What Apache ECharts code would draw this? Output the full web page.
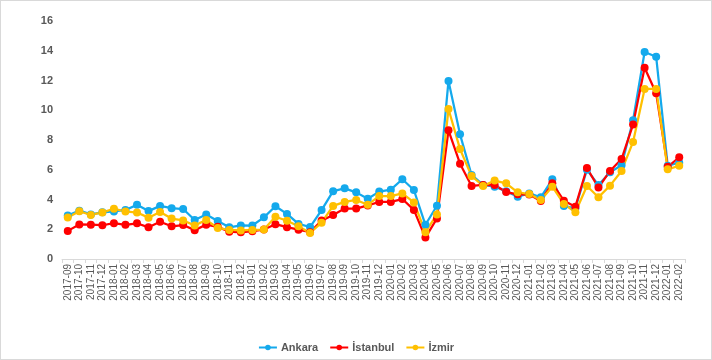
<!DOCTYPE html>
<html><head><meta charset="utf-8">
<script src="https://cdn.jsdelivr.net/npm/echarts@6/dist/echarts.min.js"></script>
<style>
html,body{margin:0;padding:0;background:#fff;}
#c{width:710px;height:358px;border:1px solid #d9d9d9;}
</style></head>
<body><div id="c"></div>
<script>
var months = ['2017-09','2017-10','2017-11','2017-12','2018-01','2018-02','2018-03','2018-04','2018-05','2018-06','2018-07','2018-08','2018-09','2018-10','2018-11','2018-12','2019-01','2019-02','2019-03','2019-04','2019-05','2019-06','2019-07','2019-08','2019-09','2019-10','2019-11','2019-12','2020-01','2020-02','2020-03','2020-04','2020-05','2020-06','2020-07','2020-08','2020-09','2020-10','2020-11','2020-12','2021-01','2021-02','2021-03','2021-04','2021-05','2021-06','2021-07','2021-08','2021-09','2021-10','2021-11','2021-12','2022-01','2022-02'];
var ankara = [2.93,3.25,3.0,3.14,3.2,3.3,3.64,3.22,3.57,3.42,3.36,2.62,2.99,2.56,2.13,2.26,2.25,2.8,3.55,3.03,2.36,2.15,3.29,4.56,4.75,4.48,4.05,4.53,4.66,5.36,4.64,2.3,3.58,11.97,8.38,5.65,4.98,4.86,4.55,4.19,4.41,4.15,5.36,3.57,3.41,6.0,4.97,5.83,6.3,9.33,13.92,13.6,6.27,6.47];
var istanbul = [1.89,2.32,2.31,2.27,2.41,2.3,2.4,2.13,2.5,2.2,2.28,1.94,2.31,2.16,1.84,1.79,1.87,1.98,2.34,2.14,1.97,1.8,2.58,2.96,3.39,3.39,3.6,3.84,3.84,4.03,3.3,1.44,2.73,8.65,6.41,4.91,4.98,4.97,4.5,4.35,4.33,3.9,5.09,3.92,3.52,6.12,4.8,5.92,6.72,9.05,12.86,11.14,6.2,6.84];
var izmir = [2.79,3.21,2.96,3.13,3.38,3.2,3.12,2.78,3.16,2.72,2.59,2.26,2.62,2.09,1.95,1.92,1.95,1.98,2.84,2.57,2.2,1.75,2.44,3.57,3.84,3.97,3.65,4.23,4.23,4.41,3.8,1.8,3.0,10.08,7.39,5.58,4.91,5.27,5.09,4.48,4.37,3.97,4.86,3.7,3.14,4.91,4.15,4.93,5.92,7.87,11.43,11.43,6.03,6.27];
var yTicks = [0,2,4,6,8,10,12,14,16];

var chart = echarts.init(document.getElementById('c'));
function mk(name, data, color){
  return {name:name, type:'line', data:data, symbol:'circle', symbolSize:8,
    lineStyle:{width:2.25,color:color}, itemStyle:{color:color}, emphasis:{disabled:true}};
}
chart.setOption({
  animation:false,
  textStyle:{fontFamily:'"Liberation Sans", Arial, sans-serif'},
  grid:{left:61,right:26,top:20,bottom:100,containLabel:false},
  legend:{top:336,left:'center',itemWidth:18,itemHeight:7,itemGap:11,
    textStyle:{color:'#595959',fontSize:11,fontWeight:'bold',padding:[0,0,0,-1]},
    data:['Ankara','İstanbul','İzmir']},
  xAxis:{type:'category',data:months,boundaryGap:true,
    axisLine:{lineStyle:{color:'#d9d9d9'}},
    axisTick:{show:true,alignWithLabel:false,length:4,lineStyle:{color:'#d9d9d9'}},
    axisLabel:{rotate:90,interval:0,color:'#595959',fontSize:10,margin:5}},
  yAxis:{type:'value',min:yTicks[0],max:yTicks[yTicks.length-1],interval:2,
    axisLine:{show:false},axisTick:{show:false},splitLine:{show:false},
    axisLabel:{color:'#595959',fontSize:11,fontWeight:'bold',margin:9}},
  series:[mk('Ankara',ankara,'#14A9EC'),mk('İstanbul',istanbul,'#FF0000'),mk('İzmir',izmir,'#FFC000')]
});
</script></body></html>
